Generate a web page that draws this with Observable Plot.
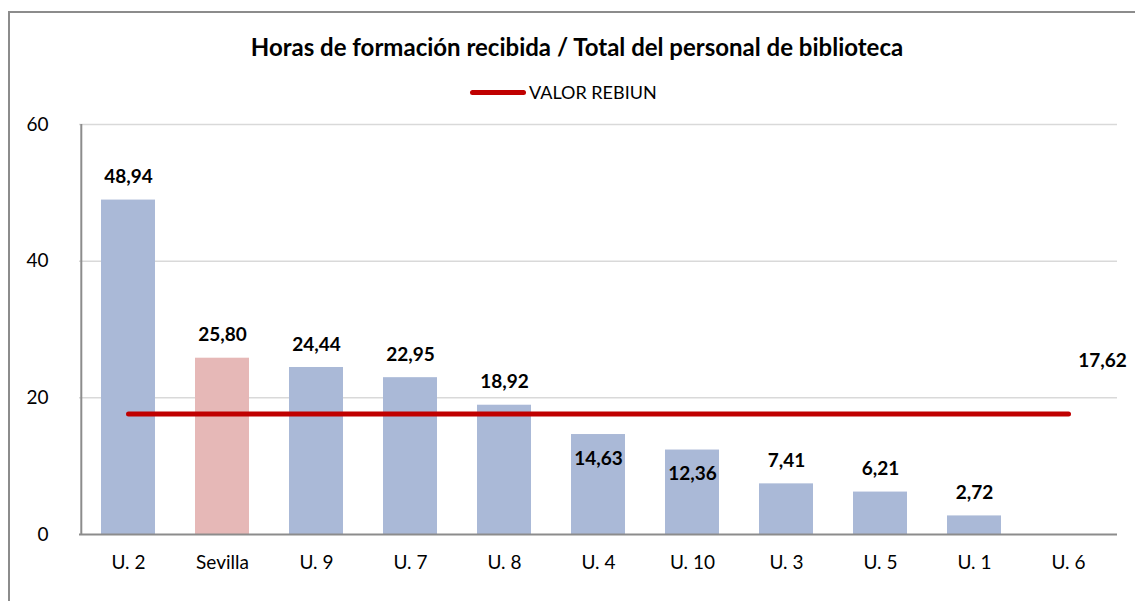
<!DOCTYPE html>
<html>
<head>
<meta charset="utf-8">
<script src="https://cdn.jsdelivr.net/npm/d3@7"></script>
<script src="https://cdn.jsdelivr.net/npm/@observablehq/plot@0.6"></script>
<style>
  html, body { margin: 0; padding: 0; background: #fff; overflow: hidden; }
  body { width: 1135px; height: 601px; position: relative; font-family: Lato, "Open Sans", sans-serif; }
  #frame { position: absolute; left: 8px; top: 11px; width: 1140px; height: 600px;
           border-left: 2px solid #8c8c8c; border-top: 2px solid #8c8c8c; }
  #header { position: absolute; left: 0; top: 0; width: 1135px; height: 110px; }
  #title { position: absolute; left: 0; width: 1154px; top: 32px; text-align: center;
           font-weight: bold; font-size: 24px; line-height: 30px; color: #000; }
  #legend { position: absolute; left: 470px; top: 80px; display: flex; align-items: center;
            font-size: 18px; line-height: 24px; color: #000; }
  #legend .swatch { width: 56px; height: 5px; border-radius: 3px; background: #C00000; margin-right: 3px; }
  #chart { position: absolute; left: 0; top: 110px; }
</style>
</head>
<body>
<div id="frame"></div>
<div id="header">
  <div id="title">Horas de formación recibida / Total del personal de biblioteca</div>
  <div id="legend"><span class="swatch"></span><span>VALOR REBIUN</span></div>
</div>
<div id="chart"></div>
<script>
const categories = ["U. 2", "Sevilla", "U. 9", "U. 7", "U. 8", "U. 4", "U. 10", "U. 3", "U. 5", "U. 1", "U. 6"];
const values = [48.94, 25.80, 24.44, 22.95, 18.92, 14.63, 12.36, 7.41, 6.21, 2.72, null];
const rebiunValue = 17.62;
const highlight = "Sevilla";
const yTicks = [0, 20, 40, 60];

const fmt = v => v.toFixed(2).replace(".", ",");
const rows = categories.map((c, i) => ({cat: c, v: values[i]}));
const barRows = rows.filter(d => d.v != null);
// labels that would collide with the reference line go inside the bar
const collides = d => d.v < rebiunValue && d.v + 6 > rebiunValue;
const labelsAbove = barRows.filter(d => !collides(d));
const labelsInside = barRows.filter(d => collides(d));
const lineRows = categories.map(c => ({cat: c, v: rebiunValue}));

const font = "Lato, 'Open Sans', sans-serif";
const chart = Plot.plot({
  width: 1135,
  height: 491,
  marginLeft: 79,
  marginRight: 18,
  marginTop: 14,
  marginBottom: 67,
  style: {fontFamily: font, fontSize: "19px", color: "#000", background: "transparent"},
  x: {domain: categories, paddingInner: 0.43, paddingOuter: 0.215},
  y: {domain: [0, 60]},
  marks: [
    Plot.gridY(yTicks.filter(t => t > 0), {stroke: "#d9d9d9", strokeOpacity: 1, strokeWidth: 1.5}),
    Plot.axisX({label: null, tickSize: 0, tickPadding: 21, fontSize: 19, fill: "#000"}),
    Plot.axisY({ticks: yTicks, label: null, tickSize: 0, tickPadding: 31, fontSize: 19, fill: "#000"}),
    Plot.barY(barRows, {x: "cat", y: "v", fill: d => d.cat === highlight ? "#E6B8B7" : "#AAB9D7"}),
    Plot.ruleY([0], {stroke: "#8c8c8c", strokeWidth: 2}),
    Plot.ruleX([categories[0]], {y1: 0, y2: 60, stroke: "#8c8c8c", strokeWidth: 2, dx: -47.2}),
    Plot.line(lineRows, {x: "cat", y: "v", stroke: "#C00000", strokeWidth: 5, strokeLinecap: "round"}),
    Plot.text(labelsAbove, {x: "cat", y: "v", text: d => fmt(d.v), dy: -23, fontWeight: "bold", fontSize: 19, fill: "#000"}),
    Plot.text(labelsInside, {x: "cat", y: "v", text: d => fmt(d.v), dy: 24, fontWeight: "bold", fontSize: 19, fill: "#000"}),
    Plot.text([lineRows[lineRows.length - 1]], {x: "cat", y: "v", text: d => fmt(d.v), dx: 34, dy: -53, fontWeight: "bold", fontSize: 19, fill: "#000"})
  ]
});
document.getElementById("chart").appendChild(chart);
</script>
</body>
</html>
